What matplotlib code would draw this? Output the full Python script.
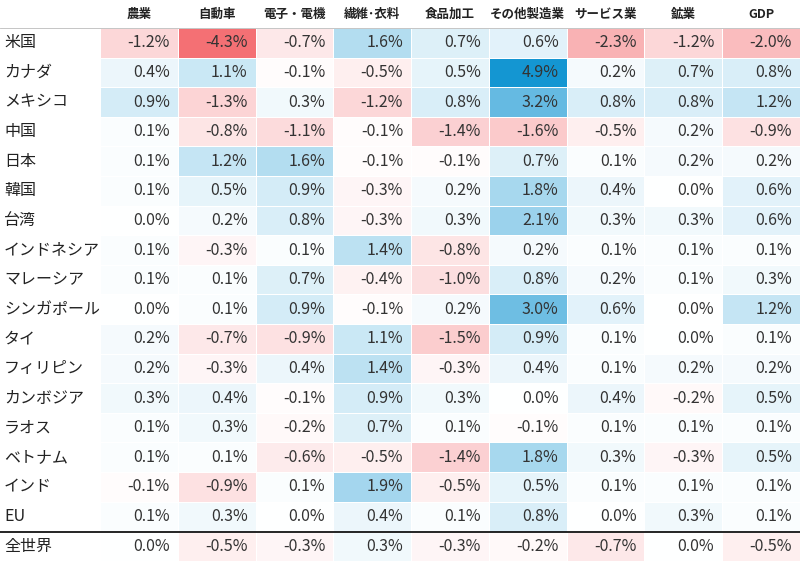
import matplotlib
matplotlib.use("Agg")
import matplotlib.pyplot as plt
import numpy as np
from matplotlib.colors import LinearSegmentedColormap, TwoSlopeNorm

plt.rcParams["font.family"] = "Noto Sans CJK JP"

columns = ["農業", "自動車", "電子・電機", "繊維･衣料", "食品加工", "その他製造業", "サービス業", "鉱業", "GDP"]
regions = ["米国", "カナダ", "メキシコ", "中国", "日本", "韓国", "台湾", "インドネシア", "マレーシア",
           "シンガポール", "タイ", "フィリピン", "カンボジア", "ラオス", "ベトナム", "インド", "EU", "全世界"]
values = [
    [-1.2, -4.3, -0.7, 1.6, 0.7, 0.6, -2.3, -1.2, -2.0],
    [0.4, 1.1, -0.1, -0.5, 0.5, 4.9, 0.2, 0.7, 0.8],
    [0.9, -1.3, 0.3, -1.2, 0.8, 3.2, 0.8, 0.8, 1.2],
    [0.1, -0.8, -1.1, -0.1, -1.4, -1.6, -0.5, 0.2, -0.9],
    [0.1, 1.2, 1.6, -0.1, -0.1, 0.7, 0.1, 0.2, 0.2],
    [0.1, 0.5, 0.9, -0.3, 0.2, 1.8, 0.4, 0.0, 0.6],
    [0.0, 0.2, 0.8, -0.3, 0.3, 2.1, 0.3, 0.3, 0.6],
    [0.1, -0.3, 0.1, 1.4, -0.8, 0.2, 0.1, 0.1, 0.1],
    [0.1, 0.1, 0.7, -0.4, -1.0, 0.8, 0.2, 0.1, 0.3],
    [0.0, 0.1, 0.9, -0.1, 0.2, 3.0, 0.6, 0.0, 1.2],
    [0.2, -0.7, -0.9, 1.1, -1.5, 0.9, 0.1, 0.0, 0.1],
    [0.2, -0.3, 0.4, 1.4, -0.3, 0.4, 0.1, 0.2, 0.2],
    [0.3, 0.4, -0.1, 0.9, 0.3, 0.0, 0.4, -0.2, 0.5],
    [0.1, 0.3, -0.2, 0.7, 0.1, -0.1, 0.1, 0.1, 0.1],
    [0.1, 0.1, -0.6, -0.5, -1.4, 1.8, 0.3, -0.3, 0.5],
    [-0.1, -0.9, 0.1, 1.9, -0.5, 0.5, 0.1, 0.1, 0.1],
    [0.1, 0.3, 0.0, 0.4, 0.1, 0.8, 0.0, 0.3, 0.1],
    [0.0, -0.5, -0.3, 0.3, -0.3, -0.2, -0.7, 0.0, -0.5],
]
V = np.array(values)

W, H = 800, 561
fig = plt.figure(figsize=(8, 5.61), dpi=100)
ax = fig.add_axes([0, 0, 1, 1])
ax.set_xlim(0, W); ax.set_ylim(H, 0); ax.axis("off")

label_w, head_h = 100, 28
col_w = (W - label_w) / len(columns)
row_h = 29.6
xe = label_w + col_w * np.arange(len(columns) + 1)
ye = head_h + row_h * np.arange(len(regions) + 1)
ye[-1] = H
ye[-2] = ye[-3] + row_h + 1

cmap = LinearSegmentedColormap.from_list("rb", ["#f47074", "#ffffff", "#1496d2"])
norm = TwoSlopeNorm(vmin=-4.3, vcenter=0, vmax=4.9)
ax.pcolormesh(xe, ye, V, cmap=cmap, norm=norm, edgecolor="white", linewidth=0.6)

for j, c in enumerate(columns):
    ax.text((xe[j] + xe[j + 1]) / 2, head_h / 2, c, ha="center", va="center",
            fontsize=9, fontweight="bold", color="#222222")
for i, r in enumerate(regions):
    yc = (ye[i] + ye[i + 1]) / 2
    ax.text(4, yc, r, ha="left", va="center", fontsize=11.5, color="#222222")
    for j in range(len(columns)):
        ax.text(xe[j + 1] - 8, yc, f"{V[i, j]:.1f}%", ha="right", va="center",
                fontsize=11.5, color="#333333")

ax.plot([0, W], [head_h, head_h], color="#bbbbbb", lw=0.6)
ax.plot([0, W], [ye[-2], ye[-2]], color="black", lw=1.2)
fig.savefig("out.png", dpi=100)
